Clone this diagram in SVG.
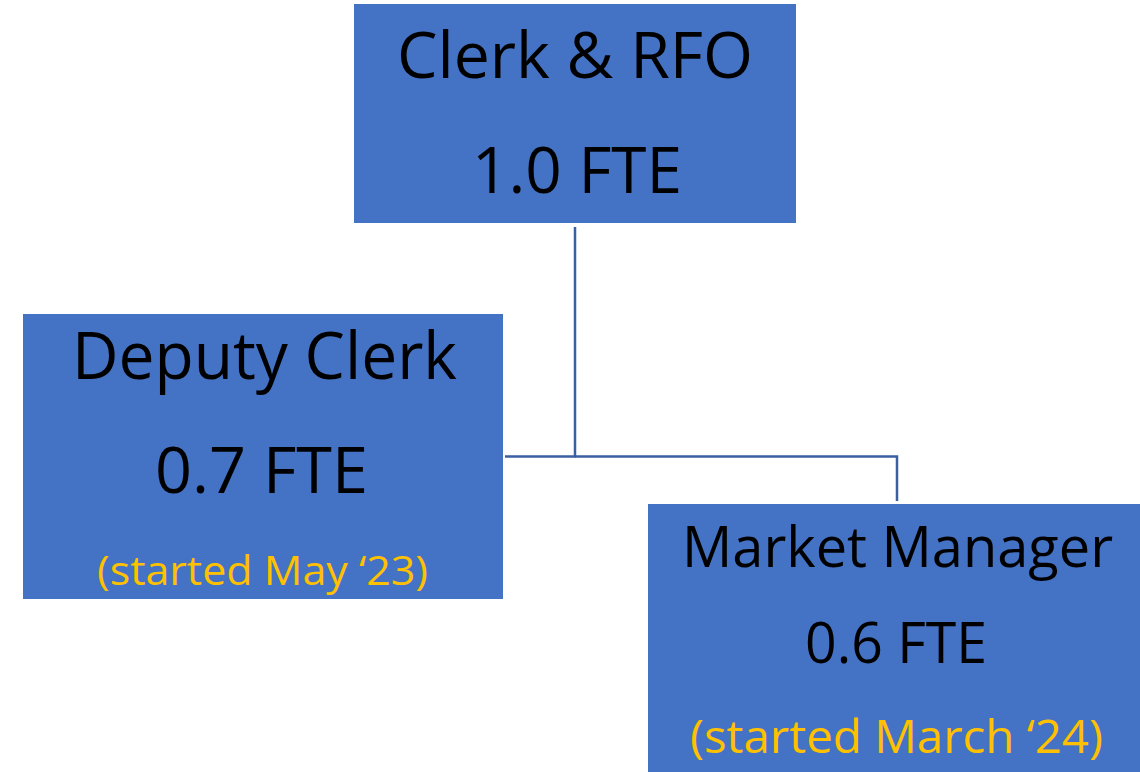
<svg xmlns="http://www.w3.org/2000/svg" width="1140" height="772" viewBox="0 0 1140 772">
<style>
.box{fill:#4472C4}
.t{font-family:"Open Sans","Liberation Sans",Arial,sans-serif;fill:#000;text-anchor:middle}
.y{font-family:"Open Sans","Liberation Sans",Arial,sans-serif;fill:#FFC000;text-anchor:middle}
.c{fill:none;stroke:#3A5FA3;stroke-width:2.5}
</style>
<rect width="1140" height="772" fill="#fff"/>
<g id="connectors">
<polyline class="c" points="575,227 575,456.5 505,456.5"/>
<polyline class="c" points="575,456.5 897,456.5 897,501"/>
</g>
<g id="clerk">
<rect class="box" x="354" y="4" width="442" height="219"/>
<text class="t" x="575" y="78" font-size="64" textLength="356" lengthAdjust="spacingAndGlyphs">Clerk &amp; RFO</text>
<text class="t" x="577" y="193" font-size="64" textLength="210" lengthAdjust="spacingAndGlyphs">1.0 FTE</text>
</g>
<g id="deputy">
<rect class="box" x="23" y="314" width="480" height="285"/>
<text class="t" x="264.5" y="379" font-size="65" textLength="385" lengthAdjust="spacingAndGlyphs">Deputy Clerk</text>
<text class="t" x="261.5" y="493" font-size="64" textLength="213" lengthAdjust="spacingAndGlyphs">0.7 FTE</text>
<text class="y" x="262.5" y="585" font-size="40" textLength="331" lengthAdjust="spacingAndGlyphs">(started May ‘23)</text>
</g>
<g id="market">
<rect class="box" x="648" y="504" width="500" height="280"/>
<text class="t" x="897.5" y="567" font-size="56" textLength="431" lengthAdjust="spacingAndGlyphs">Market Manager</text>
<text class="t" x="896" y="663" font-size="56" textLength="182" lengthAdjust="spacingAndGlyphs">0.6 FTE</text>
<text class="y" x="896.5" y="753" font-size="46" textLength="413" lengthAdjust="spacingAndGlyphs">(started March ‘24)</text>
</g>
</svg>
